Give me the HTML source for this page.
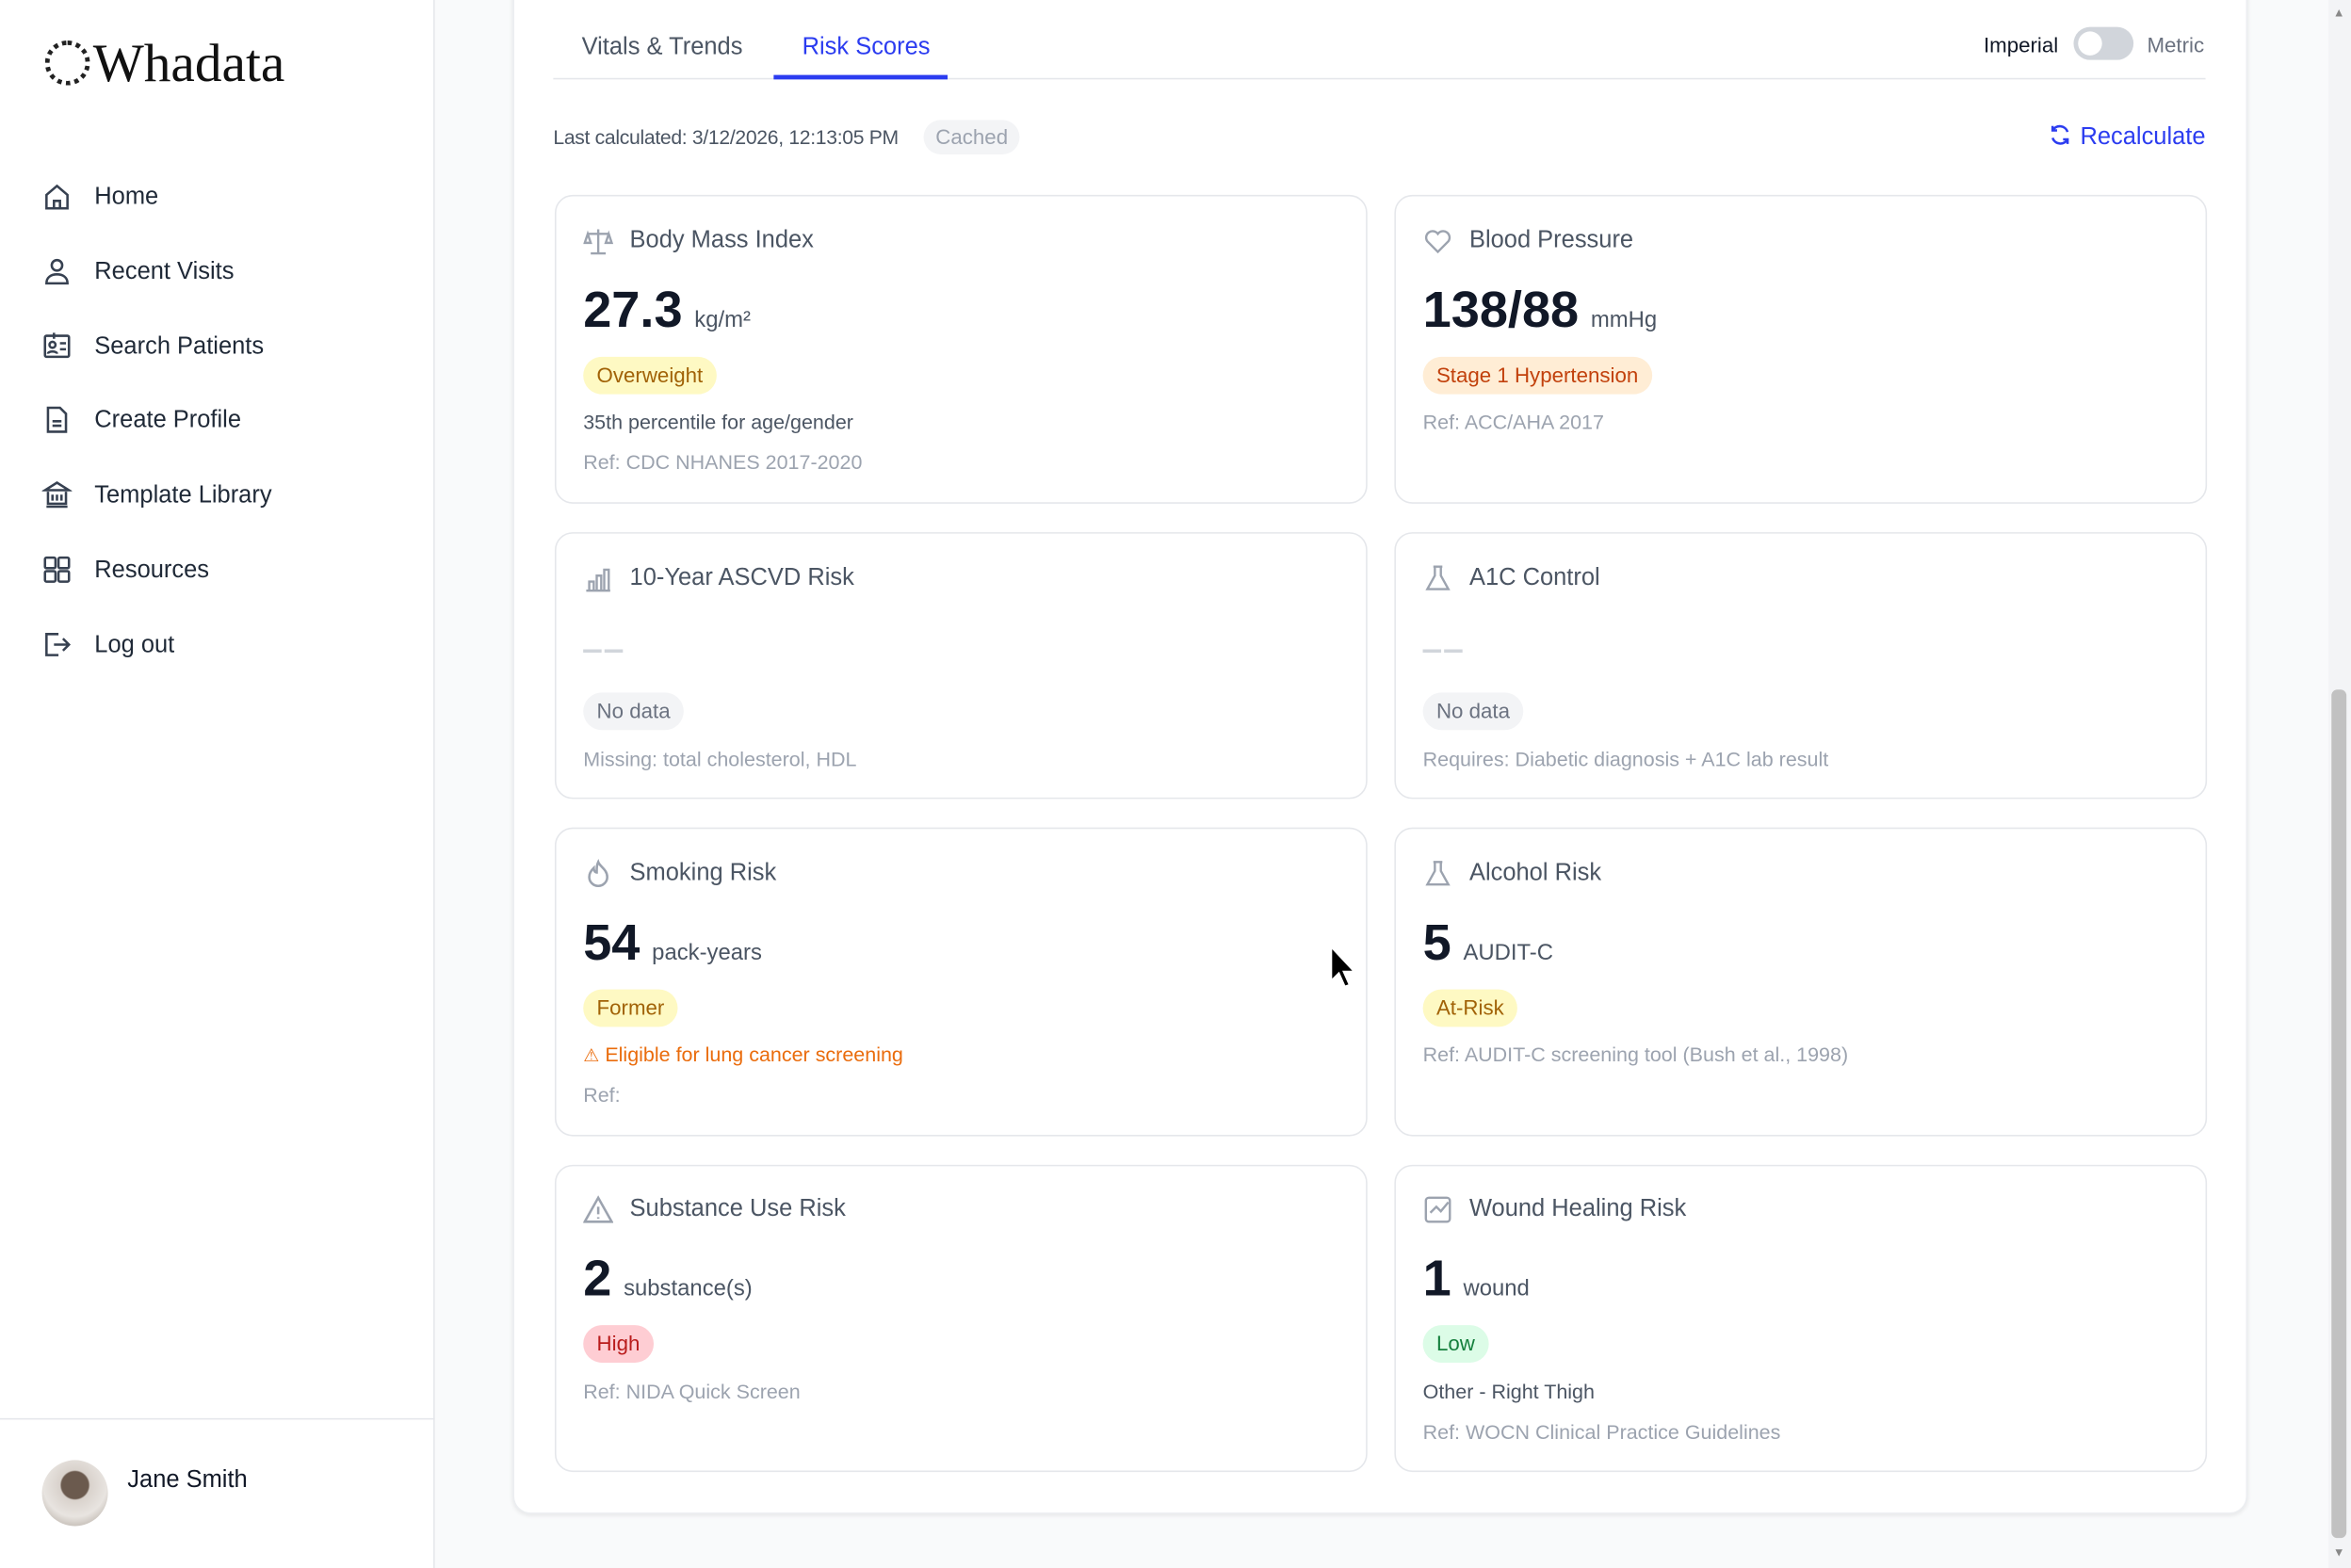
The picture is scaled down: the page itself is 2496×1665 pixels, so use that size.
<!DOCTYPE html>
<html><head><meta charset="utf-8"><style>
*{margin:0;padding:0;box-sizing:border-box}
html,body{width:2496px;height:1664px;overflow:hidden;background:#f9fafb;font-family:"Liberation Sans",sans-serif}
#w{position:absolute;left:0;top:0;width:1568px;height:1046px;transform:scale(1.5918);transform-origin:0 0;background:#f9fafb}
.a{position:absolute;white-space:nowrap}
#side{position:absolute;left:0;top:0;width:290px;height:1046px;background:#fff;border-right:1px solid #e5e7eb}
.nav{position:absolute;left:63px;font-size:16px;color:#1f2937;line-height:20px}
.ni{position:absolute;left:28px;width:20px;height:20px}
#panel{position:absolute;left:342px;top:-20px;width:1157px;height:1030px;background:#fff;border:1px solid #eceef1;border-radius:12px;box-shadow:0 1px 3px rgba(0,0,0,.08)}
.card{position:absolute;width:542px;background:#fff;border:1px solid #e5e7eb;border-radius:12px}
.card .t{position:absolute;left:49px;font-size:16px;color:#4b5563;line-height:20px}
.card .ic{position:absolute;left:18px;width:20px;height:20px}
.card .v{position:absolute;left:18px;font-size:34px;font-weight:bold;color:#111827;line-height:40px}
.card .v span{font-size:15px;font-weight:normal;color:#4b5563;margin-left:8px}
.b{position:absolute;left:18px;height:25px;line-height:25px;padding:0 9px;border-radius:13px;font-size:14px}
.l{position:absolute;left:18px;font-size:13.5px;line-height:18px;color:#4b5563}
.g{color:#9ca3af}
</style></head><body><div id="w">
<div id="side">
 <div class="a" style="left:30px;top:21px;font-family:'Liberation Serif',serif;font-size:36px;line-height:42px;color:#111"><span style="display:inline-block;width:30px;height:30px;border:3px dotted #222;border-radius:50%;vertical-align:-3px;margin-right:2px"></span>Whadata</div>
 <svg class="ni" style="top:121px" viewBox="0 0 20 20" fill="none" stroke="#374151" stroke-width="1.6"><path d="M3 9l7-6 7 6v9H3z"/><path d="M8 18v-5h4v5"/></svg><div class="nav" style="top:122px">Home</div>
 <svg class="ni" style="top:171px" viewBox="0 0 20 20" fill="none" stroke="#374151" stroke-width="1.6"><circle cx="10" cy="6" r="3.5"/><path d="M3 18c0-4 3-6 7-6s7 2 7 6z"/></svg><div class="nav" style="top:172px">Recent Visits</div>
 <svg class="ni" style="top:220px" viewBox="0 0 20 20" fill="none" stroke="#374151" stroke-width="1.6"><rect x="2" y="4" width="16" height="14" rx="1"/><circle cx="7" cy="10" r="2"/><path d="M4 16c0-2 6-2 6 0M12 9h4M12 13h4M8 2v4"/></svg><div class="nav" style="top:222px">Search Patients</div>
 <svg class="ni" style="top:270px" viewBox="0 0 20 20" fill="none" stroke="#374151" stroke-width="1.6"><path d="M4 2h8l4 4v12H4z"/><path d="M7 11h6M7 14h6"/></svg><div class="nav" style="top:271px">Create Profile</div>
 <svg class="ni" style="top:320px" viewBox="0 0 20 20" fill="none" stroke="#374151" stroke-width="1.6"><path d="M2 7l8-5 8 5zM3 18h14M4 8v8h12V8M7 10v4M10 10v4M13 10v4"/></svg><div class="nav" style="top:321px">Template Library</div>
 <svg class="ni" style="top:370px" viewBox="0 0 20 20" fill="none" stroke="#374151" stroke-width="1.6"><rect x="2" y="2" width="7" height="7" rx="1"/><rect x="11" y="2" width="7" height="7" rx="1"/><rect x="2" y="11" width="7" height="7" rx="1"/><rect x="11" y="11" width="7" height="7" rx="1"/></svg><div class="nav" style="top:371px">Resources</div>
 <svg class="ni" style="top:420px" viewBox="0 0 20 20" fill="none" stroke="#374151" stroke-width="1.6"><path d="M11 3H3v14h8M8 10h10M14 6l4 4-4 4"/></svg><div class="nav" style="top:421px">Log out</div>
 <div class="a" style="left:0;top:946px;width:290px;border-top:1px solid #e5e7eb"></div>
 <div class="a" style="left:28px;top:974px;width:44px;height:44px;border-radius:50%;background:radial-gradient(circle at 50% 38%,#6b5a4e 0 9px,#d9d2cc 10px,#e8e4e0 60%,#a49a90)"></div>
 <div class="a" style="left:85px;top:978px;font-size:16px;line-height:20px;color:#111827;font-weight:500">Jane Smith</div>
</div>
<div id="panel"></div>
<div class="a" style="left:388px;top:22px;font-size:16px;line-height:20px;color:#4b5563">Vitals &amp; Trends</div>
<div class="a" style="left:535px;top:22px;font-size:16px;line-height:20px;color:#2b3cf0">Risk Scores</div>
<div class="a" style="left:369px;top:52px;width:1102px;border-top:1px solid #e5e7eb"></div>
<div class="a" style="left:516px;top:50px;width:116px;height:3px;background:#2b3cf0"></div>
<div class="a" style="left:1323px;top:21px;font-size:14px;line-height:18px;color:#111827">Imperial</div>
<div class="a" style="left:1383px;top:18px;width:40px;height:22px;border-radius:11px;background:#d1d5db"><div style="position:absolute;left:3px;top:3px;width:16px;height:16px;border-radius:50%;background:#fff"></div></div>
<div class="a" style="left:1432px;top:21px;font-size:14px;line-height:18px;color:#6b7280">Metric</div>
<div class="a" style="left:369px;top:83px;font-size:13.3px;line-height:18px;color:#4b5563;letter-spacing:-0.2px">Last calculated: 3/12/2026, 12:13:05 PM</div>
<div class="a" style="left:616px;top:80px;height:23px;line-height:23px;padding:0 8px;border-radius:12px;background:#f3f4f6;font-size:14px;color:#9ca3af">Cached</div>
<div class="a" style="right:97px;top:82px;font-size:16px;line-height:20px;color:#2b3cf0"><svg width="16" height="16" viewBox="0 0 16 16" fill="none" stroke="#2b3cf0" stroke-width="1.6" style="vertical-align:-2px;margin-right:5px"><path d="M13 6A5.5 5.5 0 0 0 3 5M3 2v3h3M3 10a5.5 5.5 0 0 0 10 1M13 14v-3h-3"/></svg>Recalculate</div>

<div class="card" style="left:370px;top:130px;height:206px">
 <svg class="ic" style="top:20px" viewBox="0 0 20 20" fill="none" stroke="#9ca3af" stroke-width="1.5"><path d="M10 2v16M5 18h10M3 5h14M3 5l-2 6h4zM17 5l-2 6h4z"/></svg>
 <div class="t" style="top:20px">Body Mass Index</div>
 <div class="v" style="top:56px">27.3<span>kg/m²</span></div>
 <div class="b" style="top:107px;background:#fef9c3;color:#a16207">Overweight</div>
 <div class="l" style="top:142px">35th percentile for age/gender</div>
 <div class="l g" style="top:169px">Ref: CDC NHANES 2017-2020</div>
</div>
<div class="card" style="left:930px;top:130px;height:206px">
 <svg class="ic" style="top:20px" viewBox="0 0 20 20" fill="none" stroke="#9ca3af" stroke-width="1.5"><path d="M10 17L3 10a4 4 0 0 1 7-5 4 4 0 0 1 7 5z"/></svg>
 <div class="t" style="top:20px">Blood Pressure</div>
 <div class="v" style="top:56px">138/88<span>mmHg</span></div>
 <div class="b" style="top:107px;background:#ffedd5;color:#c2410c">Stage 1 Hypertension</div>
 <div class="l g" style="top:142px">Ref: ACC/AHA 2017</div>
</div>
<div class="card" style="left:370px;top:355px;height:178px">
 <svg class="ic" style="top:20px" viewBox="0 0 20 20" fill="none" stroke="#9ca3af" stroke-width="1.5"><path d="M2 18h16M4 18v-6h3v6M9 18V8h3v10M14 18V4h3v14"/></svg>
 <div class="t" style="top:20px">10-Year ASCVD Risk</div>
 <div class="a" style="left:18px;top:64px;font-size:22px;color:#d1d5db;font-weight:bold;letter-spacing:2px">‒‒</div>
 <div class="b" style="top:106px;background:#f3f4f6;color:#6b7280">No data</div>
 <div class="l g" style="top:142px">Missing: total cholesterol, HDL</div>
</div>
<div class="card" style="left:930px;top:355px;height:178px">
 <svg class="ic" style="top:20px" viewBox="0 0 20 20" fill="none" stroke="#9ca3af" stroke-width="1.5"><path d="M7 2h6M8 2v6l-5 9h14l-5-9V2"/></svg>
 <div class="t" style="top:20px">A1C Control</div>
 <div class="a" style="left:18px;top:64px;font-size:22px;color:#d1d5db;font-weight:bold;letter-spacing:2px">‒‒</div>
 <div class="b" style="top:106px;background:#f3f4f6;color:#6b7280">No data</div>
 <div class="l g" style="top:142px">Requires: Diabetic diagnosis + A1C lab result</div>
</div>
<div class="card" style="left:370px;top:552px;height:206px">
 <svg class="ic" style="top:20px" viewBox="0 0 20 20" fill="none" stroke="#9ca3af" stroke-width="1.6"><path d="M10 2c1 3 6 5 6 10a6 6 0 0 1-12 0c0-3 2-5 3-6 0 2 1 3 2 3 0-3 0-5 1-7z"/></svg>
 <div class="t" style="top:20px">Smoking Risk</div>
 <div class="v" style="top:56px">54<span>pack-years</span></div>
 <div class="b" style="top:107px;background:#fef9c3;color:#a16207">Former</div>
 <div class="l" style="top:142px;color:#ea6c0c"><span style="font-size:12px">⚠</span> Eligible for lung cancer screening</div>
 <div class="l g" style="top:169px">Ref:</div>
</div>
<div class="card" style="left:930px;top:552px;height:206px">
 <svg class="ic" style="top:20px" viewBox="0 0 20 20" fill="none" stroke="#9ca3af" stroke-width="1.5"><path d="M7 2h6M8 2v6l-5 9h14l-5-9V2"/></svg>
 <div class="t" style="top:20px">Alcohol Risk</div>
 <div class="v" style="top:56px">5<span>AUDIT-C</span></div>
 <div class="b" style="top:107px;background:#fef9c3;color:#a16207">At-Risk</div>
 <div class="l g" style="top:142px">Ref: AUDIT-C screening tool (Bush et al., 1998)</div>
</div>
<div class="card" style="left:370px;top:777px;height:205px">
 <svg class="ic" style="top:19px" viewBox="0 0 20 20" fill="none" stroke="#9ca3af" stroke-width="1.6"><path d="M10 2L1 18h18zM10 8v5M10 15v1"/></svg>
 <div class="t" style="top:19px">Substance Use Risk</div>
 <div class="v" style="top:55px">2<span>substance(s)</span></div>
 <div class="b" style="top:106px;background:#fecdd3;color:#b91c1c">High</div>
 <div class="l g" style="top:142px">Ref: NIDA Quick Screen</div>
</div>
<div class="card" style="left:930px;top:777px;height:205px">
 <svg class="ic" style="top:19px" viewBox="0 0 20 20" fill="none" stroke="#9ca3af" stroke-width="1.5"><rect x="2" y="2" width="16" height="16" rx="2"/><path d="M5 12l4-4 3 3 5-6"/></svg>
 <div class="t" style="top:19px">Wound Healing Risk</div>
 <div class="v" style="top:55px">1<span>wound</span></div>
 <div class="b" style="top:106px;background:#dcfce7;color:#15803d">Low</div>
 <div class="l" style="top:142px">Other - Right Thigh</div>
 <div class="l g" style="top:169px">Ref: WOCN Clinical Practice Guidelines</div>
</div>
<svg class="a" style="left:887px;top:631px" width="20" height="28" viewBox="0 0 20 28"><path d="M1 1v22l5-5 4 9 3-1-4-9h7z" fill="#000" stroke="#fff" stroke-width="1"/></svg>
<div class="a" style="left:1553px;top:0;width:15px;height:1046px;background:#f3f4f6"></div>
<div class="a" style="left:1555px;top:460px;width:10px;height:566px;background:#c1c1c1;border-radius:4px"></div>
<div class="a" style="left:1556px;top:4px;font-size:8px;color:#888">▲</div>
<div class="a" style="left:1556px;top:1031px;font-size:8px;color:#888">▼</div>
</div></body></html>
